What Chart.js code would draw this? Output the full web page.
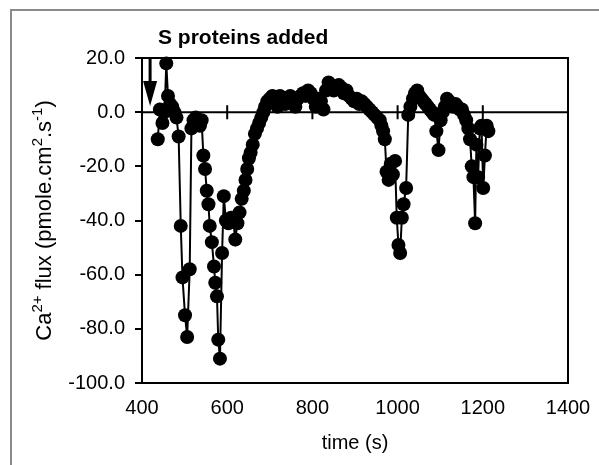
<!DOCTYPE html>
<html>
<head>
<meta charset="utf-8">
<script src="https://cdn.jsdelivr.net/npm/chart.js@4/dist/chart.umd.min.js"></script>
<style>
  body { margin: 0; background: #fff; }
  canvas { display: block; }
</style>
</head>
<body>
<canvas id="flux" width="599" height="465"></canvas>
<script>
// time points (s) and Ca2+ flux values
var times = [437, 442, 448, 453, 457, 461, 466, 471, 476, 481, 486, 491, 495, 501, 506, 512,
  516, 521, 526, 531, 536, 540, 544, 548, 552, 556, 559, 564, 569, 572, 576, 579, 583, 588,
  592, 597, 603, 609, 614, 619, 624, 629, 634, 639, 643, 647, 651, 655, 660, 665, 670, 675,
  680, 685, 689, 694, 700, 706, 712, 718, 724, 730, 736, 742, 748, 754, 760, 766, 772, 778,
  784, 790, 796, 802, 808, 814, 820, 826, 832, 838, 844, 850, 856, 862, 868, 874, 880, 886,
  892, 898, 904, 910, 916, 922, 928, 934, 940, 946, 952, 958, 962, 966, 970, 974, 979, 984,
  989, 994, 998, 1002, 1006, 1010, 1014, 1020, 1025, 1030, 1036, 1041, 1046, 1051, 1056,
  1061, 1066, 1071, 1076, 1081, 1086, 1091, 1096, 1101, 1106, 1111, 1116, 1121, 1126, 1131,
  1136, 1141, 1146, 1151, 1156, 1161, 1166, 1170, 1174, 1178, 1182, 1185, 1189, 1193, 1197,
  1201, 1205, 1209, 1213];
var flux = [-10, 1, -4, 0, 18, 6, 3, 2, 0, -2, -9, -42, -61, -75, -83, -58,
  -6, -3, -2, -4, -5, -3, -16, -21, -29, -34, -42, -48, -57, -63, -68, -84, -91, -52,
  -31, -40, -41, -39, -40, -47, -41, -37, -32, -29, -25, -21, -17, -15, -12, -8, -6, -4,
  -2, 0, 2, 4, 5, 6, 5, 2, 6, 5, 3, 5, 6, 5, 2, 5, 6, 7,
  6, 8, 7, 5, 2, 5, 4, 1, 8, 11, 10, 8, 9, 10, 9, 7, 8, 6,
  5, 4, 5, 3, 4, 3, 2, 1, 0, -1, -2, -3, -5, -7, -10, -22, -25, -19,
  -23, -18, -39, -49, -52, -39, -34, -28, -1, 2, 5, 7, 8, 6, 5,
  4, 3, 2, 1, 0, -1, -7, -14, -3, 0, 2, 5, 4, 3, 2,
  3, 2, 1, 1, -1, -3, -6, -10, -20, -24, -41, -12, -24, -6, -5,
  -28, -16, -5, -7];

var xTicks = [400, 600, 800, 1000, 1200, 1400];
var yTicks = [20, 0, -20, -40, -60, -80, -100];
var crossTicks = [600, 800, 1000, 1200];
var arrowTime = 419;
var noteText = 'S proteins added';
// y title pieces: [text, superscript?]
var yTitle = [['Ca', 0], ['2+', 1], [' flux (pmole.cm', 0], ['2', 1], ['.s', 0], ['-1', 1], [')', 0]];

var FONT = "'Liberation Sans', Arial, sans-serif";
Chart.defaults.font.family = FONT;
Chart.defaults.color = '#000';

var points = times.map(function (t, i) { return { x: t, y: flux[i] }; });

var decor = {
    id: 'decor',
    beforeDatasetsDraw: function (chart) {
        var c = chart.ctx, a = chart.chartArea;
        var xs = chart.scales.x, ys = chart.scales.y;
        var y0 = ys.getPixelForValue(0);
        c.save();
        c.strokeStyle = '#000';
        c.lineWidth = 2;
        c.strokeRect(a.left, a.top, a.right - a.left, a.bottom - a.top);
        c.beginPath();
        c.moveTo(a.left, y0);
        c.lineTo(a.right, y0);
        crossTicks.forEach(function (v) {
            var px = xs.getPixelForValue(v);
            c.moveTo(px, y0 - 7);
            c.lineTo(px, y0 + 7);
        });
        c.stroke();
        c.restore();
    },
    afterDraw: function (chart) {
        var c = chart.ctx, a = chart.chartArea;
        var xs = chart.scales.x, ys = chart.scales.y;
        c.save();
        // arrow marking the addition
        var ax = xs.getPixelForValue(arrowTime);
        c.strokeStyle = '#000';
        c.lineWidth = 3;
        c.beginPath();
        c.moveTo(ax, a.top);
        c.lineTo(ax, ys.getPixelForValue(11));
        c.stroke();
        c.fillStyle = '#000';
        c.beginPath();
        c.moveTo(ax - 7, ys.getPixelForValue(11.5));
        c.lineTo(ax + 7, ys.getPixelForValue(11.5));
        c.lineTo(ax, ys.getPixelForValue(2.3));
        c.closePath();
        c.fill();
        // note
        c.font = 'bold 21px ' + FONT;
        c.textBaseline = 'middle';
        c.textAlign = 'left';
        c.fillText(noteText, 158, 38);
        // y title with superscripts
        var big = '22px ' + FONT, small = '15px ' + FONT;
        var total = 0;
        yTitle.forEach(function (p) {
            c.font = p[1] ? small : big;
            total += c.measureText(p[0]).width;
        });
        c.translate(45, (a.top + a.bottom) / 2);
        c.rotate(-Math.PI / 2);
        c.textBaseline = 'middle';
        var pos = -total / 2;
        yTitle.forEach(function (p) {
            c.font = p[1] ? small : big;
            c.fillText(p[0], pos, p[1] ? -7 : 0);
            pos += c.measureText(p[0]).width;
        });
        c.restore();
        // outer figure frame
        c.save();
        c.strokeStyle = '#8a8a8a';
        c.lineWidth = 2;
        c.beginPath();
        c.moveTo(11, 465);
        c.lineTo(11, 10);
        c.lineTo(599, 10);
        c.stroke();
        c.restore();
    }
};

new Chart(document.getElementById('flux').getContext('2d'), {
    type: 'line',
    data: {
        datasets: [{
            data: points,
            borderColor: '#000',
            borderWidth: 2,
            backgroundColor: '#000',
            pointBackgroundColor: '#000',
            pointBorderWidth: 0,
            pointRadius: 7,
            tension: 0,
            clip: false
        }]
    },
    options: {
        responsive: false,
        animation: false,
        devicePixelRatio: 1,
        layout: { padding: { top: 58, right: 31, left: 0, bottom: 0 } },
        plugins: { legend: { display: false }, tooltip: { enabled: false } },
        scales: {
            x: {
                type: 'linear',
                min: 400,
                max: 1400,
                afterBuildTicks: function (s) { s.ticks = xTicks.map(function (v) { return { value: v }; }); },
                afterFit: function (s) { s.height = 82; },
                ticks: {
                    font: { size: 20 },
                    padding: 5,
                    maxRotation: 0,
                    color: '#000',
                    callback: function (v) { return String(v); }
                },
                grid: { display: false },
                border: { display: false },
                title: { display: true, text: 'time (s)', font: { size: 20 }, color: '#000', padding: { top: 0, bottom: 10 } }
            },
            y: {
                min: -100,
                max: 20,
                afterBuildTicks: function (s) { s.ticks = yTicks.map(function (v) { return { value: v }; }); },
                afterFit: function (s) { s.width = 142; },
                ticks: {
                    font: { size: 20 },
                    padding: 10,
                    color: '#000',
                    callback: function (v) { return v.toFixed(1); }
                },
                grid: { drawOnChartArea: false, drawTicks: true, tickLength: 7, color: '#000', lineWidth: 2 },
                border: { display: true, color: '#000', width: 2 }
            }
        }
    },
    plugins: [decor]
});
</script>
</body>
</html>
